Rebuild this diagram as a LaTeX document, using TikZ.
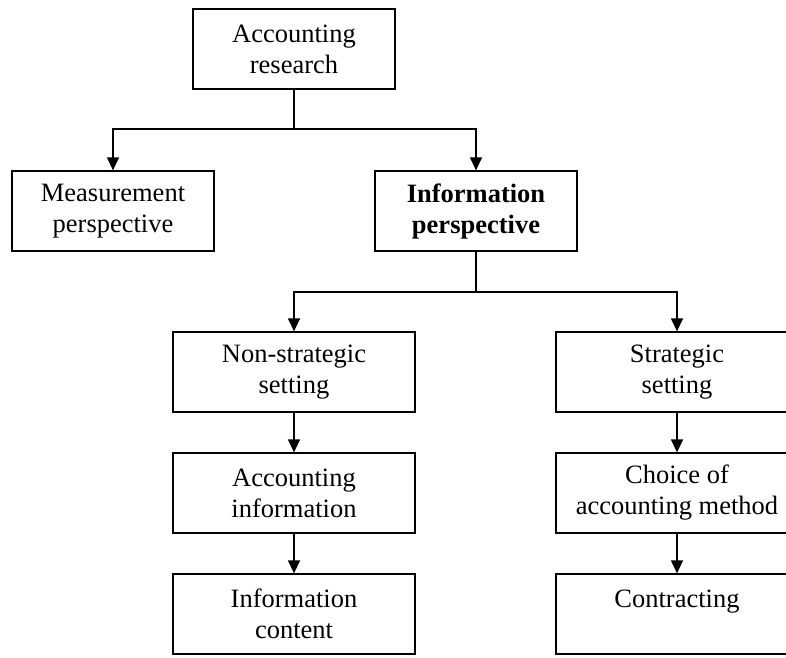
\documentclass[tikz,border=0pt]{standalone}
\usepackage{fontspec}
\setmainfont{Liberation Serif}
\usetikzlibrary{arrows.meta}

\begin{document}
\begin{tikzpicture}[x=1pt,y=-1pt,
  box/.style={draw, line width=1.3pt, rectangle, inner sep=0pt, align=center,
    font=\fontsize{26.5pt}{31pt}\selectfont},
  link/.style={line width=1.3pt},
  arr/.style={link, -{Triangle[length=13pt,width=12pt]}}]
\useasboundingbox (0,0) rectangle (786,657);
\clip (0,0) rectangle (786,657);

% top level
\node[box, minimum width=202pt, minimum height=80pt] (root) at (294,49) {Accounting\\research};
\node[box, minimum width=202pt, minimum height=80pt] (meas) at (113,211) {Measurement\\perspective};
\node[box, minimum width=202pt, minimum height=80pt] (info) at (476,211) {\bfseries Information\\\bfseries perspective};

% left branch
\node[box, minimum width=242pt, minimum height=80pt] (nonstrat) at (294,372) {Non-strategic\\setting};
\node[box, minimum width=242pt, minimum height=80pt] (accinfo) at (294,493) {Accounting\\information};
\node[box, minimum width=242pt, minimum height=80pt] (content) at (294,614) {Information\\content};

% right branch
\node[box, minimum width=242pt, minimum height=80pt] (strat) at (677,372) {Strategic\\setting};
\node[box, minimum width=242pt, minimum height=80pt] (choice) at (677,493) {Choice of\\accounting method};
\node[box, minimum width=242pt, minimum height=80pt] (contract) at (677,614) {Contracting\\\phantom{content}};

% junction points
\coordinate (j1) at (294,129);
\coordinate (j2) at (476,292);

% connectors
\draw[link] (root.south) -- (j1);
\draw[arr] (j1) -| (meas.north);
\draw[arr] (j1) -| (info.north);
\draw[link] (info.south) -- (j2);
\draw[arr] (j2) -| (nonstrat.north);
\draw[arr] (j2) -| (strat.north);
\draw[arr] (nonstrat) -- (accinfo);
\draw[arr] (accinfo) -- (content);
\draw[arr] (strat) -- (choice);
\draw[arr] (choice) -- (contract);
\end{tikzpicture}
\end{document}
